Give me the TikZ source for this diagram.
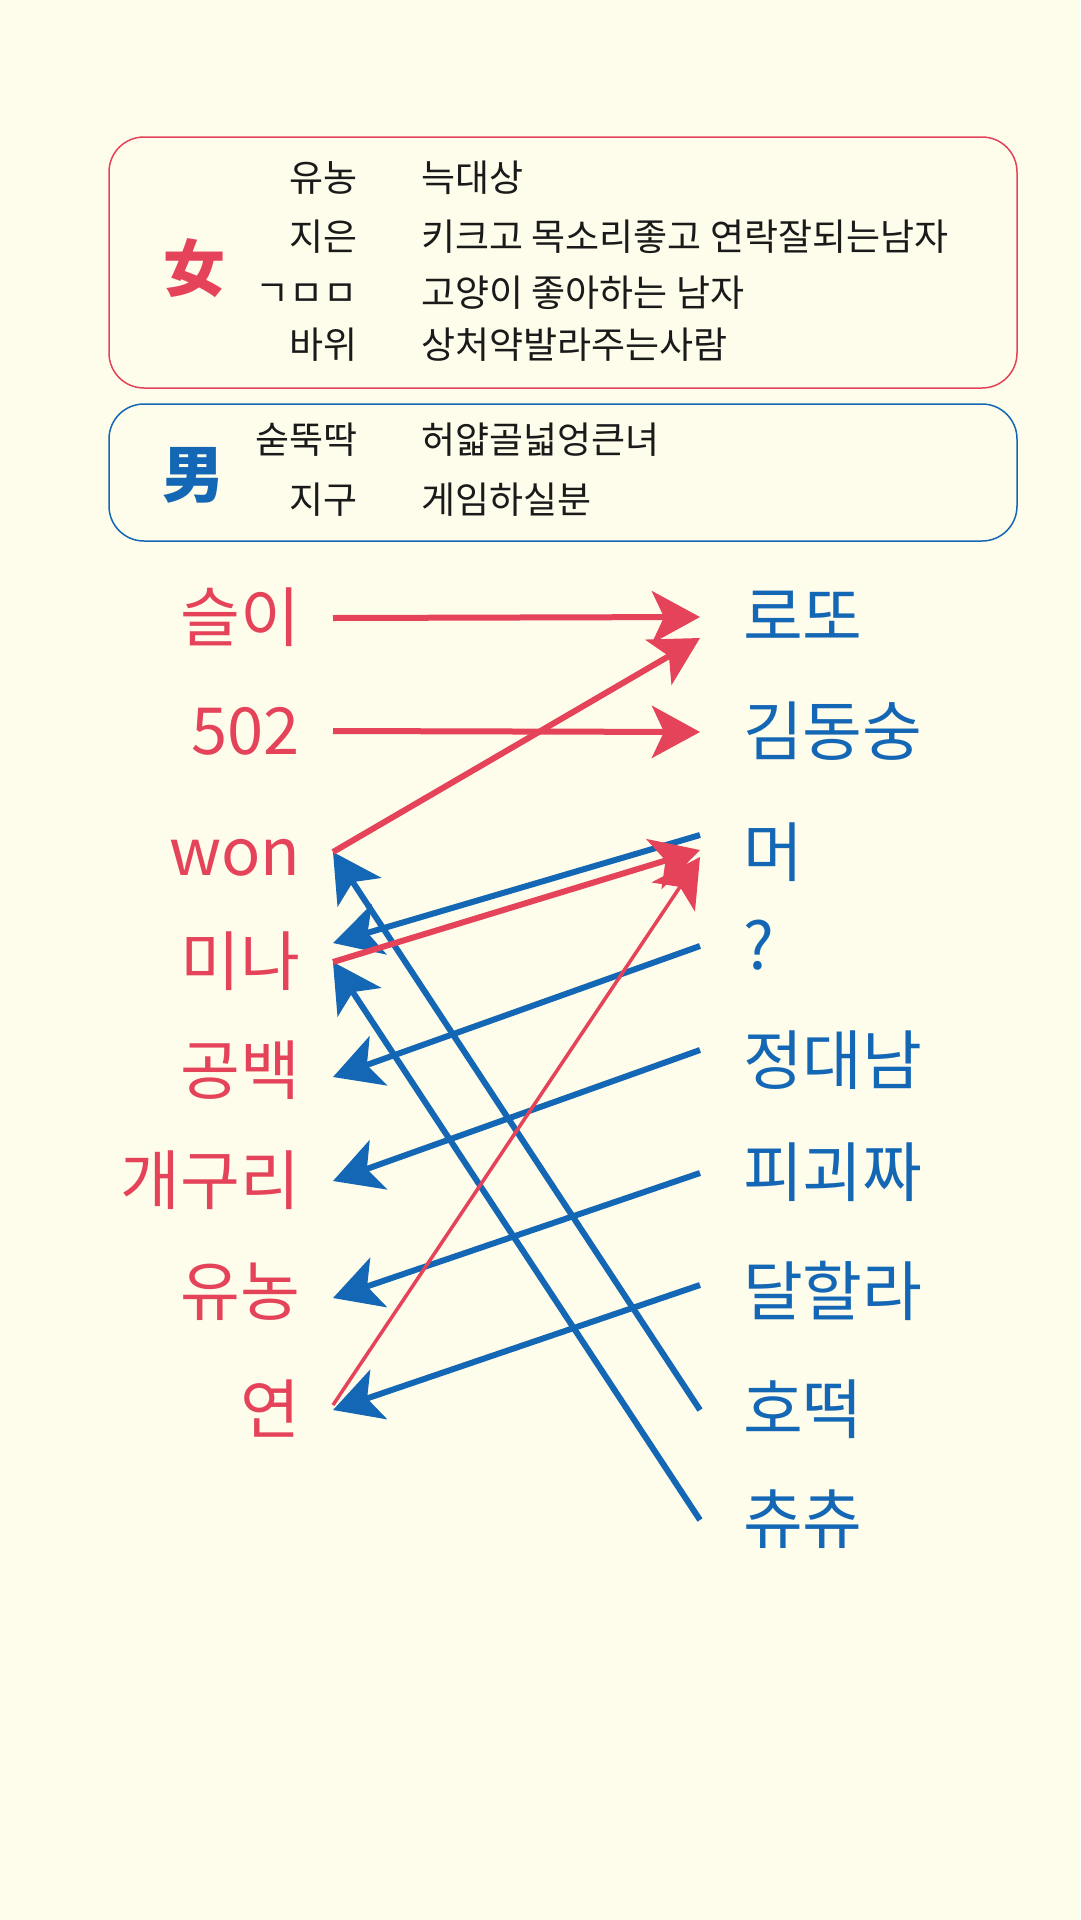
\documentclass[tikz,border=0pt]{standalone}
\usepackage{fontspec}
\usetikzlibrary{arrows.meta}
\newfontfamily\krfont{Noto Sans CJK KR}
\definecolor{paper}{HTML}{FEFCEA}
\definecolor{rose}{HTML}{E4435A}
\definecolor{navy}{HTML}{1467B4}
\definecolor{ink}{HTML}{1A1A1A}

\begin{document}
\begin{tikzpicture}[x=1pt,y=-1pt,
  hdr/.style={font=\krfont\fontsize{37}{40}\selectfont,text=ink,inner sep=0pt,text height=30pt,text depth=2.5pt},
  sex/.style={font=\krfont\bfseries\fontsize{62}{70}\selectfont,inner sep=0pt},
  lname/.style={font=\krfont\fontsize{65}{70}\selectfont,text=rose,anchor=east,inner sep=0pt,outer xsep=33pt,text height=52pt,text depth=4.5pt},
  rname/.style={font=\krfont\fontsize{65}{70}\selectfont,text=navy,anchor=west,inner sep=0pt,outer xsep=43pt,text height=52pt,text depth=4.5pt},
  redarr/.style={draw=rose,line width=6pt,-{Stealth[length=48pt,width=52pt,inset=12pt]}},
  bluearr/.style={draw=navy,line width=6pt,-{Stealth[length=48pt,width=52pt,inset=12pt]}}]
\fill[paper] (0,0) rectangle (1080,1920);
\useasboundingbox (0,0) rectangle (1080,1920);
\draw[rose,line width=1.5pt,rounded corners=35pt] (109,137) rectangle (1017,388);
\draw[navy,line width=1.5pt,rounded corners=35pt] (109,404) rectangle (1017,541);
\node[sex,text=rose] (girls) at (194,268) {女};
\node[sex,text=navy] (boys) at (193,475) {男};
\node[hdr,anchor=east] (g1) at (358,178) {유농};
\node[hdr,anchor=east] (g2) at (358,237) {지은};
\node[hdr,anchor=east] (g3) at (358,293) {ㄱㅁㅁ};
\node[hdr,anchor=east] (g4) at (358,345) {바위};
\node[hdr,anchor=west] (w1) at (421,178) {늑대상};
\node[hdr,anchor=west] (w2) at (421,237) {키크고 목소리좋고 연락잘되는남자};
\node[hdr,anchor=west] (w3) at (421,293) {고양이 좋아하는 남자};
\node[hdr,anchor=west] (w4) at (421,345) {상처약발라주는사람};
\node[hdr,anchor=east] (b1) at (358,440) {숟뚝딱};
\node[hdr,anchor=east] (b2) at (358,500) {지구};
\node[hdr,anchor=west] (v1) at (421,440) {허얇골넓엉큰녀};
\node[hdr,anchor=west] (v2) at (421,500) {게임하실분};

\node[lname] (f1) at (333,618) {슬이};
\node[lname] (f2) at (333,731) {502};
\node[lname] (f3) at (333,852) {won};
\node[lname] (f4) at (333,962) {미나};
\node[lname] (f5) at (333,1071) {공백};
\node[lname] (f6) at (333,1181) {개구리};
\node[lname] (f7) at (333,1292) {유농};
\node[lname] (f8) at (333,1410) {연};
\node[rname] (m1) at (700,617) {로또};
\node[rname] (m2) at (700,732) {김동숭};
\node[rname] (m3) at (700,853) {머};
\node[rname] (m4) at (700,946) {?};
\node[rname] (m5) at (700,1061) {정대남};
\node[rname] (m6) at (700,1173) {피괴짜};
\node[rname] (m7) at (700,1292) {달할라};
\node[rname] (m8) at (700,1410) {호떡};
\node[rname] (m9) at (700,1520) {츄츄};

\draw[bluearr] ([yshift=18pt]m3.west) -- ([yshift=19pt]f4.east);
\draw[bluearr] (m4.west) -- ([yshift=-6pt]f5.east);
\draw[bluearr] ([yshift=11pt]m5.west) -- (f6.east);
\draw[bluearr] (m6.west) -- ([yshift=-6pt]f7.east);
\draw[bluearr] ([yshift=7pt]m7.west) -- (f8.east);
\draw[bluearr] (m8.west) -- (f3.east);
\draw[bluearr] (m9.west) -- (f4.east);
\draw[redarr] (f1.east) -- (m1.west);
\draw[redarr] (f2.east) -- (m2.west);
\draw[redarr] (f3.east) -- ([yshift=-21pt]m1.west);
\draw[redarr] (f4.east) -- ([yshift=3pt]m3.west);
\draw[redarr,line width=3.5pt] ([yshift=5pt]f8.east) -- ([yshift=-4pt]m3.west);
\end{tikzpicture}
\end{document}
